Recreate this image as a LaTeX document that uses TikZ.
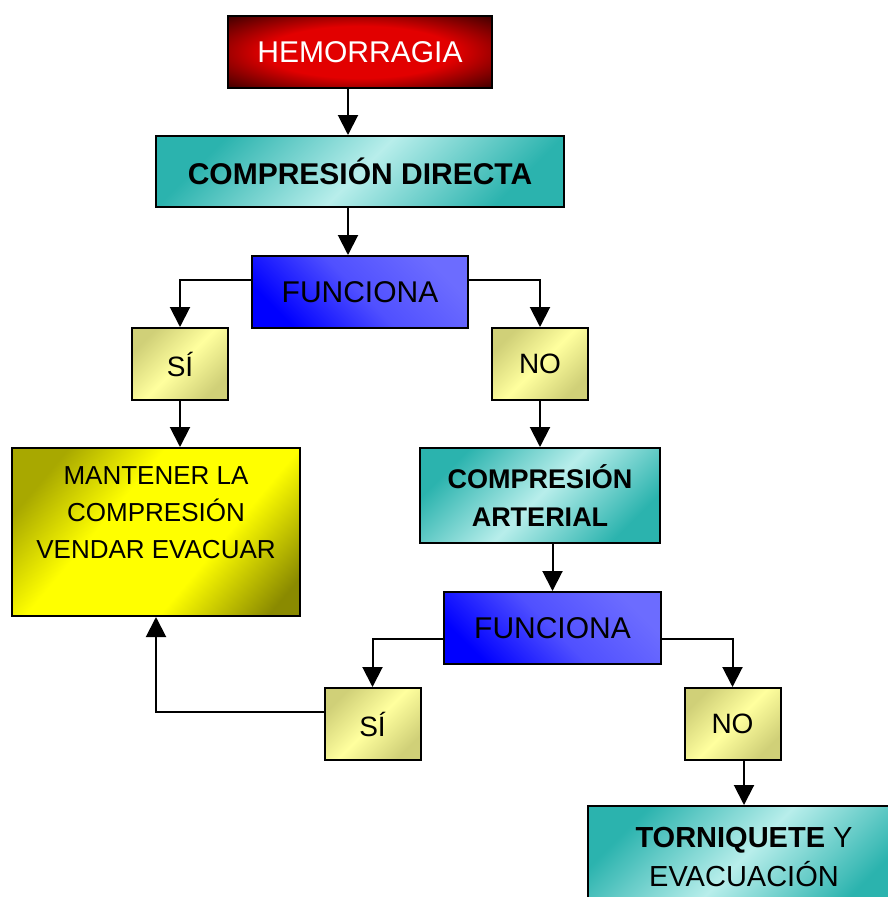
\documentclass[tikz,border=0pt]{standalone}
\usepackage{fontspec}
\setmainfont{Liberation Sans}
\usetikzlibrary{arrows.meta}
\definecolor{hemred}{HTML}{E20000}
\definecolor{hemdark}{HTML}{3A0000}
\definecolor{tealdark}{HTML}{2BB3AE}
\definecolor{teallight}{HTML}{B8EEEB}
\definecolor{bluedeep}{HTML}{0000FF}
\definecolor{bluemid}{HTML}{5050FF}
\definecolor{bluesoft}{HTML}{6C6CFF}
\definecolor{palelight}{HTML}{FFFF9E}
\definecolor{paledark}{HTML}{D0D078}
\definecolor{yelbright}{HTML}{FFFF00}
\definecolor{yeltop}{HTML}{A8A800}
\definecolor{yelolive}{HTML}{8A8A00}
\pgfdeclareradialshading{hemshade}{\pgfpoint{0bp}{0bp}}{color(0bp)=(hemred); color(18bp)=(hemred); color(36bp)=(hemdark); color(50bp)=(hemdark)}
\pgfdeclarehorizontalshading{yelshade}{100bp}{color(0bp)=(yeltop); color(24bp)=(yeltop); color(40bp)=(yelbright); color(62bp)=(yelbright); color(80bp)=(yelolive); color(100bp)=(yelolive)}
\tikzstyle{box}=[draw=black, line width=2pt, inner sep=0pt, align=center]
\tikzstyle{hembox}=[box, shading=hemshade, text=white, font=\fontsize{30}{36}\selectfont]
\tikzstyle{tealbox}=[box, left color=tealdark, right color=tealdark, middle color=teallight, shading angle=45, font=\bfseries\fontsize{28}{38}\selectfont]
\tikzstyle{bluebox}=[box, left color=bluedeep, right color=bluesoft, middle color=bluemid, shading angle=135, font=\fontsize{30}{36}\selectfont]
\tikzstyle{yesno}=[box, left color=paledark, right color=paledark, middle color=palelight, shading angle=45, minimum width=96pt, minimum height=72pt, font=\fontsize{28}{34}\selectfont]
\tikzstyle{yelbox}=[box, shading=yelshade, shading angle=-40]
\tikzstyle{arr}=[line width=2pt, -{Triangle[width=20pt,length=20pt]}]

\begin{document}
\begin{tikzpicture}[x=1pt, y=-1pt]
\clip (0,0) rectangle (888,897);

\node [hembox, minimum width=264pt, minimum height=72pt] (hem) at (360, 52) {HEMORRAGIA};
\node [tealbox, minimum width=408pt, minimum height=71pt, font=\bfseries\fontsize{30}{36}\selectfont] (dir) at (360, 171.5) {COMPRESIÓN DIRECTA};
\node [bluebox, minimum width=216pt, minimum height=72pt] (fun1) at (360, 292) {FUNCIONA};
\node [yesno] (si1) at (180, 364) {SÍ};
\node [yesno] (no1) at (540, 364) {NO};
\node [yelbox, minimum width=288pt, minimum height=168pt] (man) at (156, 532)
  {\parbox[c][130pt][t]{270pt}{\centering\fontsize{26}{37}\selectfont MANTENER LA\\COMPRESIÓN\\VENDAR EVACUAR}};
\node [tealbox, minimum width=240pt, minimum height=95pt, font=\bfseries\fontsize{27}{38}\selectfont] (art) at (540, 495.5) {COMPRESIÓN\\ARTERIAL};
\node [bluebox, minimum width=217pt, minimum height=72pt] (fun2) at (552.5, 628) {FUNCIONA};
\node [yesno] (si2) at (372.5, 724) {SÍ};
\node [yesno] (no2) at (732.5, 724) {NO};
\node [tealbox, minimum width=312pt, minimum height=102pt, font=\fontsize{29}{39}\selectfont] (torn) at (744, 857) {\textbf{TORNIQUETE} Y\\EVACUACIÓN};

\draw [arr] ([xshift=-12pt]hem.south) -- ([xshift=-12pt]dir.north);
\draw [arr] ([xshift=-12pt]dir.south) -- ([xshift=-12pt]fun1.north);
\draw [arr] ([yshift=12pt]fun1.west) -| (si1.north);
\draw [arr] ([yshift=12pt]fun1.east) -| (no1.north);
\draw [arr] (si1.south) -- (si1.south |- man.north);
\draw [arr] (no1.south) -- (art.north);
\draw [arr] (fun2.north |- art.south) -- (fun2.north);
\draw [arr] ([yshift=-11pt]fun2.west) -| (si2.north);
\draw [arr] ([yshift=-11pt]fun2.east) -| (no2.north);
\draw [arr] ([yshift=12pt]si2.west) -| (man.south);
\draw [arr] (no2.south -| torn.north) -- (torn.north);

\end{tikzpicture}
\end{document}
